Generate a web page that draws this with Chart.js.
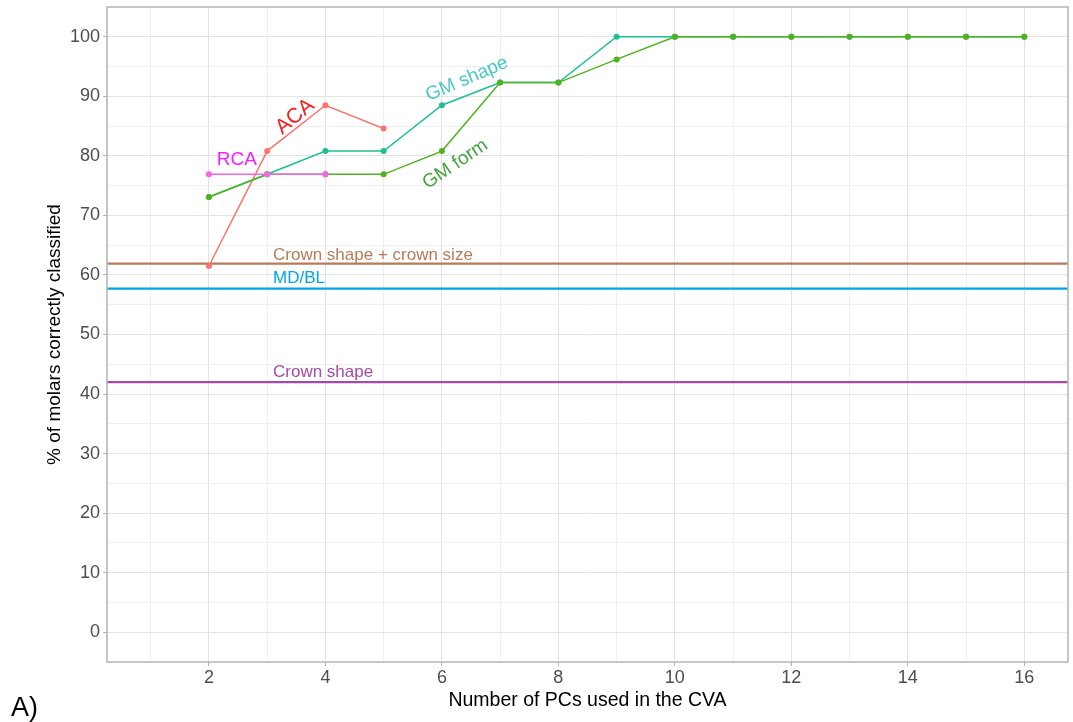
<!DOCTYPE html>
<html>
<head>
<meta charset="utf-8">
<script src="https://cdn.jsdelivr.net/npm/chart.js@4/dist/chart.umd.min.js"></script>
<style>
  html, body { margin: 0; padding: 0; background: #fff; }
  #wrap { width: 1073px; height: 722px; }
</style>
</head>
<body>
<div id="wrap"><canvas id="cvaChart" width="1073" height="722"></canvas></div>
<script>
//data
const pcs = [2, 3, 4, 5, 6, 7, 8, 9, 10, 11, 12, 13, 14, 15, 16];
const aca_pcs = [2, 3, 4, 5];
const aca_values = [61.5, 80.8, 88.5, 84.6];
const rca_pcs = [2, 3, 4];
const rca_values = [76.9, 76.9, 76.9];
const gm_shape_values = [73.1, 76.9, 80.8, 80.8, 88.5, 92.3, 92.3, 100, 100, 100, 100, 100, 100, 100, 100];
const gm_form_values = [73.1, 76.9, 76.9, 76.9, 80.8, 92.3, 92.3, 96.2, 100, 100, 100, 100, 100, 100, 100];

//reference lines
const ref_names = ['Crown shape + crown size', 'MD/BL', 'Crown shape'];
const ref_values = [61.9, 57.7, 42.0];

//axis ticks
const x_ticks = [1, 2, 3, 4, 5, 6, 7, 8, 9, 10, 11, 12, 13, 14, 15, 16];
const y_ticks = [0, 5, 10, 15, 20, 25, 30, 35, 40, 45, 50, 55, 60, 65, 70, 75, 80, 85, 90, 95, 100];
const x_min = 0.25, x_max = 16.75, y_min = -5, y_max = 105;

const pairs = (xs, ys) => xs.map((x, i) => ({x: x, y: ys[i]}));

const ref_colors = ['#B87A57', '#00A6E6', '#A54AA8'];

//text labels drawn on the panel
const labels = [
  {text: 'RCA', x: 2.48, y: 79.4, angle: 0, color: '#FF1AFF', size: 19},
  {text: 'ACA', x: 3.48, y: 86.6, angle: -40, color: '#F81D1D', size: 21},
  {text: 'GM shape', x: 6.43, y: 92.9, angle: -23, color: '#4CC6C6', size: 19},
  {text: 'GM form', x: 6.23, y: 78.6, angle: -34, color: '#43A541', size: 19},
];
const ref_label_x = 3.1;
const ref_label_y = [63.3, 59.5, 43.7];

const fam = '"Liberation Sans", Arial, sans-serif';

function seriesLine(label, data, color) {
  return {
    label: label,
    data: data,
    borderColor: color,
    backgroundColor: color,
    borderWidth: 1.5,
    pointRadius: 3,
    pointHoverRadius: 3,
    pointBorderWidth: 0,
    fill: false,
    tension: 0
  };
}

let datasets = [
  seriesLine('RCA', pairs(rca_pcs, rca_values), '#F564E3'),
  seriesLine('GM form', pairs(pcs, gm_form_values), '#4FB320'),
  seriesLine('GM shape', pairs(pcs, gm_shape_values), '#1CBF94'),
  seriesLine('ACA', pairs(aca_pcs, aca_values), '#F8766D'),
];
ref_values.forEach((v, i) => {
  datasets.push({
    label: ref_names[i],
    data: [{x: x_min, y: v}, {x: x_max, y: v}],
    borderColor: ref_colors[i],
    borderWidth: 2.2,
    pointRadius: 0,
    fill: false
  });
});

const panelPlugin = {
  id: 'panel',
  afterDatasetsDraw(chart) {
    const ctx = chart.ctx;
    const xs = chart.scales.x, ys = chart.scales.y;
    ctx.save();
    labels.forEach(l => {
      ctx.save();
      ctx.translate(xs.getPixelForValue(l.x), ys.getPixelForValue(l.y));
      ctx.rotate(l.angle * Math.PI / 180);
      ctx.font = l.size + 'px ' + fam;
      ctx.fillStyle = l.color;
      ctx.textAlign = 'center';
      ctx.textBaseline = 'middle';
      ctx.fillText(l.text, 0, 0);
      ctx.restore();
    });
    ref_names.forEach((n, i) => {
      ctx.font = '17px ' + fam;
      ctx.fillStyle = ref_colors[i];
      ctx.textAlign = 'left';
      ctx.textBaseline = 'middle';
      ctx.fillText(n, xs.getPixelForValue(ref_label_x), ys.getPixelForValue(ref_label_y[i]));
    });
    const a = chart.chartArea;
    ctx.strokeStyle = '#B3B3B3';
    ctx.lineWidth = 1.5;
    ctx.strokeRect(a.left, a.top, a.right - a.left, a.bottom - a.top);
    ctx.font = '27px ' + fam;
    ctx.fillStyle = '#000';
    ctx.textAlign = 'left';
    ctx.textBaseline = 'alphabetic';
    ctx.fillText('A)', 11, 716);
    ctx.restore();
  }
};

const tickFont = {family: fam, size: 18};

new Chart(document.getElementById('cvaChart').getContext('2d'), {
  type: 'line',
  data: {datasets: datasets},
  plugins: [panelPlugin],
  options: {
    responsive: false,
    animation: false,
    layout: {padding: {top: 7, right: 5, left: 0, bottom: 0}},
    plugins: {legend: {display: false}, tooltip: {enabled: false}},
    scales: {
      x: {
        type: 'linear',
        min: x_min,
        max: x_max,
        afterBuildTicks: s => { s.ticks = x_ticks.map(v => ({value: v})); },
        afterFit: s => { s.height = 60; s.paddingLeft = 0; s.paddingRight = 0; },
        border: {display: false},
        grid: {
          color: c => (c.tick && c.tick.value % 2 === 0) ? '#E3E3E3' : '#EFEFEF',
          lineWidth: 1,
          tickLength: 4,
          tickColor: c => (c.tick && c.tick.value % 2 === 0) ? '#B3B3B3' : 'rgba(0,0,0,0)'
        },
        ticks: {
          autoSkip: false,
          maxRotation: 0,
          padding: 1,
          color: '#4D4D4D',
          font: tickFont,
          callback: v => v % 2 === 0 ? String(v) : ''
        },
        title: {
          display: true,
          text: 'Number of PCs used in the CVA',
          color: '#000',
          font: {family: fam, size: 19.5},
          padding: {top: 0, bottom: 10}
        }
      },
      y: {
        type: 'linear',
        min: y_min,
        max: y_max,
        afterBuildTicks: s => { s.ticks = y_ticks.map(v => ({value: v})); },
        afterFit: s => { s.width = 107; s.paddingTop = 0; s.paddingBottom = 0; },
        border: {display: false},
        grid: {
          color: c => (c.tick && c.tick.value % 10 === 0) ? '#E3E3E3' : '#EFEFEF',
          lineWidth: 1,
          tickLength: 4,
          tickColor: c => (c.tick && c.tick.value % 10 === 0) ? '#B3B3B3' : 'rgba(0,0,0,0)'
        },
        ticks: {
          autoSkip: false,
          padding: 3,
          color: '#4D4D4D',
          font: tickFont,
          callback: v => v % 10 === 0 ? String(v) : ''
        },
        title: {
          display: true,
          text: '% of molars correctly classified',
          color: '#000',
          font: {family: fam, size: 19},
          padding: {top: 43.5, bottom: 0}
        }
      }
    }
  }
});
</script>
</body>
</html>
